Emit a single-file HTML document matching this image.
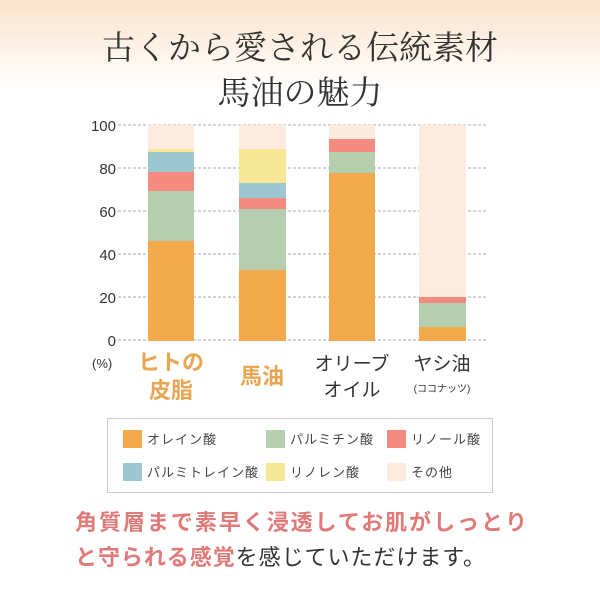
<!DOCTYPE html>
<html><head><meta charset="utf-8"><style>
body{margin:0;width:600px;height:600px;overflow:hidden;background:#fff;font-family:"Liberation Sans","Noto Sans CJK JP",sans-serif;}
.bg{position:absolute;left:0;top:0;width:600px;height:90px;background:linear-gradient(#fbe3cb,#fff);}
</style></head><body>
<div class="bg"></div>
<svg width="600" height="600" style="position:absolute;left:0;top:0" font-family="'Liberation Sans','Noto Sans CJK JP',sans-serif">
<g font-family="'Liberation Serif','Noto Serif CJK SC',serif" font-size="33" fill="#333" text-anchor="middle">
<text x="300" y="59">古くから愛される伝統素材</text>
<text x="300" y="104">馬油の魅力</text>
</g>
<g stroke="#aaa" stroke-width="1" stroke-dasharray="3,2">
<line x1="118" x2="487" y1="125" y2="125"/><line x1="118" x2="487" y1="168" y2="168"/>
<line x1="118" x2="487" y1="211" y2="211"/><line x1="118" x2="487" y1="254" y2="254"/>
<line x1="118" x2="487" y1="297" y2="297"/><line x1="118" x2="487" y1="340" y2="340"/>
</g>
<g font-size="15" fill="#333" text-anchor="end">
<text x="116" y="131">100</text><text x="116" y="174">80</text><text x="116" y="217">60</text>
<text x="116" y="260">40</text><text x="116" y="303">20</text><text x="116" y="346">0</text>
</g>
<text x="92" y="368" font-size="13" fill="#333">(%)</text>
<!-- bar1 -->
<rect x="148" y="125" width="46" height="24" fill="#fdebe0"/>
<rect x="148" y="149" width="46" height="3" fill="#f5e795"/>
<rect x="148" y="152" width="46" height="20" fill="#9cc7d0"/>
<rect x="148" y="172" width="46" height="19" fill="#f58a80"/>
<rect x="148" y="191" width="46" height="50" fill="#b5ceb0"/>
<rect x="148" y="241" width="46" height="100" fill="#f2aa4c"/>
<!-- bar2 -->
<rect x="239" y="125" width="47" height="24" fill="#fdebe0"/>
<rect x="239" y="149" width="47" height="34" fill="#f5e795"/>
<rect x="239" y="183" width="47" height="15" fill="#9cc7d0"/>
<rect x="239" y="198" width="47" height="11" fill="#f58a80"/>
<rect x="239" y="209" width="47" height="61" fill="#b5ceb0"/>
<rect x="239" y="270" width="47" height="71" fill="#f2aa4c"/>
<!-- bar3 -->
<rect x="329" y="125" width="46" height="14" fill="#fdebe0"/>
<rect x="329" y="139" width="46" height="13" fill="#f58a80"/>
<rect x="329" y="152" width="46" height="21" fill="#b5ceb0"/>
<rect x="329" y="173" width="46" height="168" fill="#f2aa4c"/>
<!-- bar4 -->
<rect x="419" y="125" width="47" height="172" fill="#fdebe0"/>
<rect x="419" y="297" width="47" height="6" fill="#f58a80"/>
<rect x="419" y="303" width="47" height="24" fill="#b5ceb0"/>
<rect x="419" y="327" width="47" height="14" fill="#f2aa4c"/>
<g text-anchor="middle">
<text x="171" y="370" font-size="22" font-weight="bold" fill="#e9a552">ヒトの</text>
<text x="171" y="398" font-size="22" font-weight="bold" fill="#e9a552">皮脂</text>
<text x="262" y="384" font-size="22" font-weight="bold" fill="#e9a552">馬油</text>
<text x="352" y="370" font-size="19" fill="#333">オリーブ</text>
<text x="352" y="396" font-size="19" fill="#333">オイル</text>
<text x="442" y="370" font-size="19" fill="#333">ヤシ油</text>
<text x="442" y="392" font-size="10" fill="#333">(ココナッツ)</text>
</g>
<rect x="107.5" y="418.5" width="385" height="74" fill="#fff" stroke="#ccc"/>
<rect x="123" y="430" width="19" height="18" fill="#f2aa4c"/>
<rect x="266" y="430" width="19" height="18" fill="#b5ceb0"/>
<rect x="387" y="430" width="19" height="18" fill="#f58a80"/>
<rect x="123" y="463" width="19" height="18" fill="#9cc7d0"/>
<rect x="266" y="463" width="19" height="18" fill="#f5e795"/>
<rect x="387" y="463" width="19" height="18" fill="#fdebe0"/>
<g font-size="13" fill="#444" letter-spacing="1">
<text x="147" y="444">オレイン酸</text><text x="290" y="444">パルミチン酸</text><text x="411" y="444">リノール酸</text>
<text x="147" y="477">パルミトレイン酸</text><text x="290" y="477">リノレン酸</text><text x="411" y="477">その他</text>
</g>
<g font-size="22" font-weight="bold">
<text x="75" y="530" fill="#e07a78" textLength="452">角質層まで素早く浸透してお肌がしっとり</text>
<text x="75" y="565" textLength="410"><tspan fill="#e07a78">と守られる感覚</tspan><tspan fill="#333" font-weight="normal">を感じていただけます。</tspan></text>
</g>
</svg>
</body></html>
